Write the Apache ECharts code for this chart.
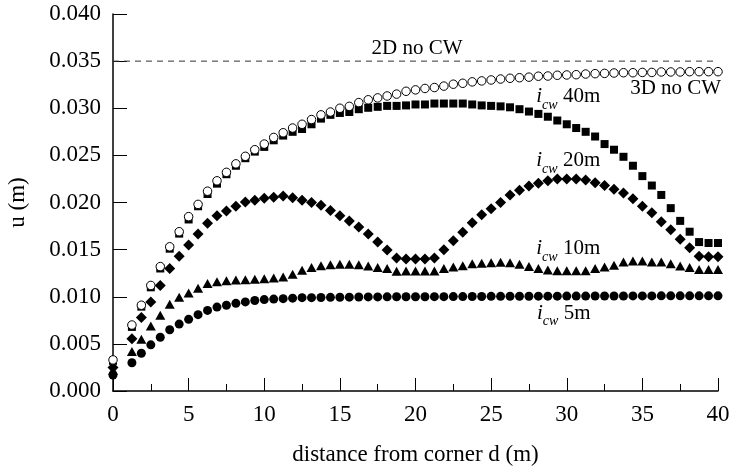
<!DOCTYPE html>
<html>
<head>
<meta charset="utf-8">
<script src="https://cdn.jsdelivr.net/npm/echarts@6/dist/echarts.min.js"></script>
<style>
  html, body { margin: 0; padding: 0; background: #fff; }
  #chart { width: 731px; height: 470px; }
</style>
</head>
<body>
<div id="chart"></div>
<script>
// distance from corner d (m)
var dist = [0, 1.25, 1.875, 2.5, 3.125, 3.75, 4.375, 5, 5.625, 6.25, 6.875, 7.5, 8.125, 8.75, 9.375, 10,
  10.625, 11.25, 11.875, 12.5, 13.125, 13.75, 14.375, 15, 15.625, 16.25, 16.875, 17.5, 18.125, 18.75, 19.375, 20,
  20.625, 21.25, 21.875, 22.5, 23.125, 23.75, 24.375, 25, 25.625, 26.25, 26.875, 27.5, 28.125, 28.75, 29.375, 30,
  30.625, 31.25, 31.875, 32.5, 33.125, 33.75, 34.375, 35, 35.625, 36.25, 36.875, 37.5, 38.125, 38.75, 39.375, 40];

// u in units of 0.001 m
var u3d = [3.3, 7.0, 9.1, 11.2, 13.2, 15.3, 16.9, 18.5, 19.8, 21.2, 22.3, 23.2, 24.1, 24.9, 25.6, 26.2,
  26.9, 27.4, 27.9, 28.3, 28.8, 29.3, 29.6, 30.0, 30.2, 30.6, 30.9, 31.1, 31.3, 31.5, 31.8, 31.95,
  32.1, 32.2, 32.35, 32.55, 32.65, 32.8, 32.9, 33.0, 33.1, 33.18, 33.24, 33.3, 33.4, 33.42, 33.5, 33.53,
  33.56, 33.63, 33.67, 33.7, 33.74, 33.77, 33.77, 33.8, 33.8, 33.85, 33.85, 33.85, 33.88, 33.88, 33.88, 33.88];
var u40 = [3.2, 6.8, 8.95, 11.0, 13.0, 15.1, 16.7, 18.2, 19.6, 20.9, 22.0, 23.0, 23.9, 24.7, 25.4, 25.9,
  26.6, 27.1, 27.5, 27.8, 28.3, 28.9, 29.3, 29.5, 29.6, 29.9, 30.05, 30.15, 30.25, 30.25, 30.3, 30.4,
  30.4, 30.5, 30.5, 30.5, 30.5, 30.4, 30.3, 30.25, 30.2, 30.1, 29.9, 29.65, 29.4, 29.1, 28.7, 28.3,
  27.9, 27.5, 27.0, 26.2, 25.6, 24.85, 23.9, 22.8, 21.8, 20.8, 19.4, 18.05, 16.9, 15.8, 15.7, 15.7];
var u20 = [2.5, 5.55, 7.8, 9.45, 11.2, 13.0, 14.3, 15.5, 16.65, 17.8, 18.6, 19.1, 19.6, 20.05, 20.25, 20.45,
  20.55, 20.7, 20.5, 20.25, 20.0, 19.7, 19.15, 18.6, 18.05, 17.4, 16.65, 15.8, 14.95, 14.1, 14.0, 14.0,
  14.0, 14.1, 15.0, 15.95, 16.85, 17.85, 18.7, 19.35, 20.0, 20.8, 21.3, 21.75, 22.05, 22.3, 22.5, 22.5,
  22.5, 22.4, 22.1, 21.8, 21.4, 21.0, 20.4, 19.6, 18.9, 17.95, 17.1, 16.1, 15.2, 14.3, 14.25, 14.25];
var u10 = [2.2, 4.2, 5.5, 6.9, 8.05, 9.2, 9.95, 10.4, 10.9, 11.4, 11.6, 11.7, 11.78, 11.8, 11.85, 11.9,
  12.0, 12.1, 12.4, 12.8, 13.1, 13.3, 13.4, 13.45, 13.45, 13.4, 13.25, 13.1, 13.0, 12.7, 12.72, 12.72,
  12.72, 12.72, 13.0, 13.15, 13.3, 13.5, 13.55, 13.6, 13.65, 13.6, 13.45, 13.2, 13.0, 12.85, 12.77, 12.77,
  12.77, 12.77, 13.0, 13.15, 13.35, 13.7, 13.8, 13.8, 13.7, 13.7, 13.5, 13.25, 13.1, 12.9, 12.9, 12.9];
var u5 = [1.7, 3.0, 4.0, 4.9, 5.7, 6.5, 7.1, 7.6, 8.1, 8.55, 8.9, 9.1, 9.3, 9.45, 9.6, 9.7,
  9.75, 9.8, 9.85, 9.9, 9.9, 9.92, 9.94, 9.95, 9.96, 9.97, 9.98, 9.98, 9.99, 10.0, 10.0, 10.0,
  10.0, 10.01, 10.01, 10.02, 10.02, 10.03, 10.03, 10.04, 10.04, 10.05, 10.05, 10.05, 10.06, 10.06, 10.06, 10.07,
  10.07, 10.07, 10.08, 10.08, 10.08, 10.08, 10.09, 10.09, 10.09, 10.1, 10.1, 10.1, 10.1, 10.1, 10.1, 10.1];

// 2D no CW reference level
var u2d = [0.035, 0.035];
var u2dRange = [0, 40];
var yTicks = ['0.000', '0.005', '0.010', '0.015', '0.020', '0.025', '0.030', '0.035', '0.040'];

function pairs(vals) {
  return dist.map(function (d, i) { return [d, vals[i] / 1000]; });
}

var FONT = '"Liberation Serif", "DejaVu Serif", serif';
var chart = echarts.init(document.getElementById('chart'));

var filled = { color: '#000', opacity: 1 };
chart.setOption({
  animation: false,
  backgroundColor: '#fff',
  grid: { left: 113, right: 13, top: 14, bottom: 79, containLabel: false, outerBoundsMode: 'none' },
  xAxis: {
    type: 'value', min: 0, max: 40, interval: 5,
    name: 'distance from corner d (m)', nameLocation: 'middle', nameGap: 52,
    nameTextStyle: { fontFamily: FONT, fontSize: 23, color: '#000' },
    axisLine: { lineStyle: { color: '#000', width: 1.5 } },
    axisTick: { inside: true, length: 13, lineStyle: { color: '#000', width: 1 } },
    minorTick: { show: true, splitNumber: 2, length: 7, lineStyle: { color: '#000', width: 1 } },
    axisLabel: { fontFamily: FONT, fontSize: 23, color: '#000', margin: 12 },
    splitLine: { show: false }
  },
  yAxis: {
    type: 'value', min: 0, max: 0.04, interval: 0.005,
    name: 'u (m)', nameLocation: 'middle', nameGap: 84, nameRotate: 90,
    nameTextStyle: { fontFamily: FONT, fontSize: 23, color: '#000' },
    axisLine: { show: true, lineStyle: { color: '#000', width: 1.5 } },
    axisTick: { show: true, inside: true, length: 14, lineStyle: { color: '#000', width: 1 } },
    axisLabel: {
      fontFamily: FONT, fontSize: 23, color: '#000', margin: 12,
      formatter: function (v) { return yTicks[Math.round(v / 0.005)]; }
    },
    splitLine: { show: false }
  },
  series: [
    {
      name: '2D', type: 'line', symbol: 'none', silent: true,
      data: u2dRange.map(function (d, i) { return [d, u2d[i]]; }),
      lineStyle: { color: '#333', type: [6, 5], width: 1 }
    },
    { name: '5m', type: 'scatter', data: pairs(u5), symbol: 'circle', symbolSize: 9, itemStyle: filled },
    { name: '10m', type: 'scatter', data: pairs(u10), symbol: 'triangle', symbolSize: [10, 9], itemStyle: filled },
    { name: '20m', type: 'scatter', data: pairs(u20), symbol: 'diamond', symbolSize: [11, 11], itemStyle: filled },
    { name: '40m', type: 'scatter', data: pairs(u40), symbol: 'rect', symbolSize: 8, itemStyle: filled },
    {
      name: '3D', type: 'scatter', data: pairs(u3d), symbol: 'circle', symbolSize: 8.5,
      itemStyle: { color: '#fff', borderColor: '#000', borderWidth: 1, opacity: 1 }
    }
  ]
});

// annotations, placed in data coordinates
var notes = [
  { d: 20.1, u: 0.0363, text: '2D no CW' },
  { d: 37.2, u: 0.03215, text: '3D no CW' },
  { d: 30.1, u: 0.0310, text: '{i|i}{s|cw}{t| 40m}' },
  { d: 30.1, u: 0.0242, text: '{i|i}{s|cw}{t| 20m}' },
  { d: 30.1, u: 0.01485, text: '{i|i}{s|cw}{t| 10m}' },
  { d: 29.8, u: 0.0080, text: '{i|i}{s|cw}{t| 5m}' }
];
var rich = {
  i: { fontFamily: FONT, fontSize: 21, fontStyle: 'italic', fill: '#000', verticalAlign: 'bottom', padding: [0, 0, 5, 0] },
  s: { fontFamily: FONT, fontSize: 14, fontStyle: 'italic', fill: '#000', verticalAlign: 'bottom' },
  t: { fontFamily: FONT, fontSize: 21, fill: '#000', verticalAlign: 'bottom', padding: [0, 0, 5, 0] }
};
chart.setOption({
  graphic: notes.map(function (n) {
    var p = chart.convertToPixel({ gridIndex: 0 }, [n.d, n.u]);
    return {
      type: 'text', x: p[0], y: p[1], silent: true,
      style: {
        text: n.text, rich: rich, fontFamily: FONT, fontSize: 21, fill: '#000',
        align: 'center', verticalAlign: 'middle'
      }
    };
  })
});
</script>
</body>
</html>
